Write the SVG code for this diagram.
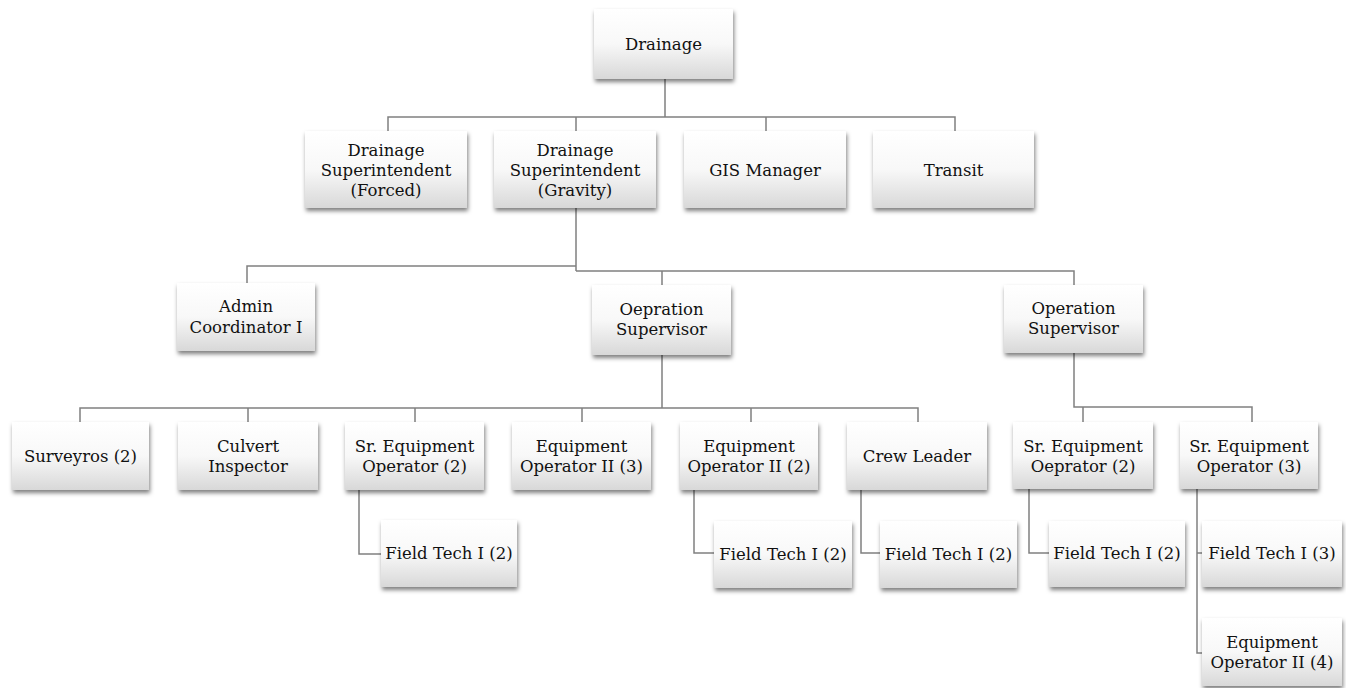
<svg xmlns="http://www.w3.org/2000/svg" width="1346" height="688" viewBox="0 0 1346 688">
<defs>
<linearGradient id="boxfill" x1="0" y1="0" x2="0" y2="1">
<stop offset="0" stop-color="#ffffff"/>
<stop offset="0.5" stop-color="#f8f8f8"/>
<stop offset="1" stop-color="#d8d8d8"/>
</linearGradient>
<filter id="shadow" x="-10%" y="-10%" width="125%" height="135%">
<feDropShadow dx="1" dy="3" stdDeviation="2" flood-color="#000" flood-opacity="0.5"/>
</filter>
</defs>
<style>
.box{fill:url(#boxfill);filter:url(#shadow);}
.t{font-family:"DejaVu Serif","Liberation Serif",serif;font-size:16.5px;fill:#111111;text-anchor:middle;}
.c{fill:none;stroke:#808080;stroke-width:1.5;}
</style>
<rect width="1346" height="688" fill="#ffffff"/>
<g id="connectors" class="c">
<path d="M665 79 V117 M388 131 V117 H955 V131 M576 117 V131 M766 117 V131"/>
<path d="M576 208 V271 M247 283 V266 H576 M576 271 H1074 V285 M662 271 V285"/>
<path d="M662 355 V408 M80 422 V408 H918 V422 M248 408 V422 M415 408 V422 M582 408 V422 M751 408 V422"/>
<path d="M1074 353 V407 H1252 V422 M1083 407 V422"/>
<path d="M359 490 V554 H381 M694 490 V553 H714 M861 490 V553 H880 M1029 489 V553 H1049 M1197 489 V653 H1202 M1197 553 H1202"/>
</g>
<g id="n-drainage"><rect class="box" x="594" y="9" width="139" height="70"/><text class="t" x="663.5" y="50">Drainage</text></g>
<g id="n-ds-forced"><rect class="box" x="305" y="131" width="162" height="77"/><text class="t" x="386" y="156">Drainage</text><text class="t" x="386" y="176">Superintendent</text><text class="t" x="386" y="196">(Forced)</text></g>
<g id="n-ds-gravity"><rect class="box" x="494" y="131" width="162" height="77"/><text class="t" x="575" y="156">Drainage</text><text class="t" x="575" y="176">Superintendent</text><text class="t" x="575" y="196">(Gravity)</text></g>
<g id="n-gis"><rect class="box" x="684" y="131" width="162" height="77"/><text class="t" x="765" y="176">GIS Manager</text></g>
<g id="n-transit"><rect class="box" x="873" y="131" width="161" height="77"/><text class="t" x="953.5" y="176">Transit</text></g>
<g id="n-admin"><rect class="box" x="177" y="283" width="138" height="68"/><text class="t" x="246" y="312">Admin</text><text class="t" x="246" y="333">Coordinator I</text></g>
<g id="n-oepration"><rect class="box" x="592" y="285" width="139" height="70"/><text class="t" x="661.5" y="315">Oepration</text><text class="t" x="661.5" y="335">Supervisor</text></g>
<g id="n-operation"><rect class="box" x="1004" y="285" width="139" height="68"/><text class="t" x="1073.5" y="314">Operation</text><text class="t" x="1073.5" y="334">Supervisor</text></g>
<g id="n-surveyros"><rect class="box" x="12" y="422" width="137" height="68"/><text class="t" x="80.5" y="462">Surveyros (2)</text></g>
<g id="n-culvert"><rect class="box" x="178" y="422" width="140" height="68"/><text class="t" x="248" y="452">Culvert</text><text class="t" x="248" y="472">Inspector</text></g>
<g id="n-sreo2"><rect class="box" x="345" y="422" width="139" height="68"/><text class="t" x="414.5" y="452">Sr. Equipment</text><text class="t" x="414.5" y="472">Operator (2)</text></g>
<g id="n-eo3"><rect class="box" x="512" y="422" width="139" height="68"/><text class="t" x="581.5" y="452">Equipment</text><text class="t" x="581.5" y="472">Operator II (3)</text></g>
<g id="n-eo2"><rect class="box" x="680" y="422" width="138" height="68"/><text class="t" x="749" y="452">Equipment</text><text class="t" x="749" y="472">Operator II (2)</text></g>
<g id="n-crew"><rect class="box" x="847" y="422" width="140" height="68"/><text class="t" x="917" y="462">Crew Leader</text></g>
<g id="n-sreoep2"><rect class="box" x="1013" y="422" width="140" height="67"/><text class="t" x="1083" y="452">Sr. Equipment</text><text class="t" x="1083" y="472">Oeprator (2)</text></g>
<g id="n-sreo3"><rect class="box" x="1180" y="422" width="138" height="67"/><text class="t" x="1249" y="452">Sr. Equipment</text><text class="t" x="1249" y="472">Operator (3)</text></g>
<g id="n-ft-a"><rect class="box" x="381" y="520" width="136" height="67"/><text class="t" x="449" y="559">Field Tech I (2)</text></g>
<g id="n-ft-b"><rect class="box" x="714" y="521" width="138" height="67"/><text class="t" x="783" y="560">Field Tech I (2)</text></g>
<g id="n-ft-c"><rect class="box" x="880" y="521" width="137" height="67"/><text class="t" x="948.5" y="560">Field Tech I (2)</text></g>
<g id="n-ft-d"><rect class="box" x="1049" y="521" width="136" height="66"/><text class="t" x="1117" y="559">Field Tech I (2)</text></g>
<g id="n-ft-e"><rect class="box" x="1202" y="521" width="140" height="66"/><text class="t" x="1272" y="559">Field Tech I (3)</text></g>
<g id="n-eo4"><rect class="box" x="1202" y="618" width="140" height="68"/><text class="t" x="1272" y="648">Equipment</text><text class="t" x="1272" y="668">Operator II (4)</text></g>
</svg>
